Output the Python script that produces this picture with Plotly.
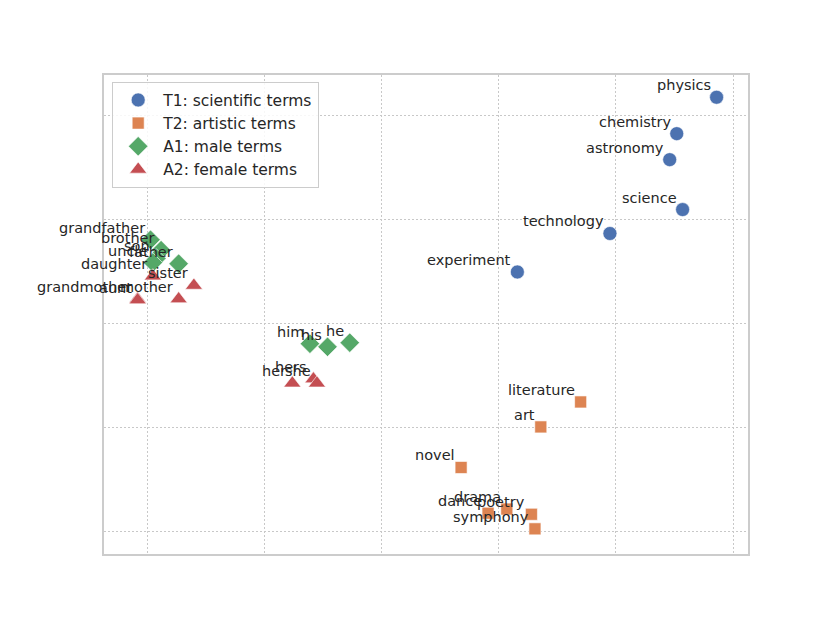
import plotly.graph_objects as go

# word positions (grid spacing = 1 unit)
t1_words = ["physics", "chemistry", "astronomy", "science", "technology", "experiment"]
t1_x = [4.86, 4.52, 4.46, 4.57, 3.95, 3.16]
t1_y = [4.18, 3.83, 3.58, 3.10, 2.87, 2.50]

t2_words = ["literature", "art", "novel", "drama", "dance", "poetry", "symphony"]
t2_x = [3.70, 3.36, 2.68, 3.07, 2.91, 3.28, 3.31]
t2_y = [1.25, 1.01, 0.62, 0.22, 0.18, 0.17, 0.03]

a1_words = ["grandfather", "brother", "son", "uncle", "father", "him", "his", "he"]
a1_x = [0.03, 0.12, 0.08, 0.05, 0.27, 1.39, 1.54, 1.73]
a1_y = [2.81, 2.71, 2.63, 2.59, 2.58, 1.81, 1.78, 1.82]

a2_words = ["daughter", "sister", "grandmother", "aunt", "mother", "her", "hers", "she"]
a2_x = [0.05, 0.40, -0.08, -0.08, 0.27, 1.24, 1.42, 1.45]
a2_y = [2.46, 2.37, 2.24, 2.23, 2.24, 1.43, 1.47, 1.43]

groups = [
    ("T1: scientific terms", t1_words, t1_x, t1_y, "#4C72B0", "circle", 14),
    ("T2: artistic terms", t2_words, t2_x, t2_y, "#DD8452", "square", 12),
    ("A1: male terms", a1_words, a1_x, a1_y, "#55A868", "diamond", 15),
    ("A2: female terms", a2_words, a2_x, a2_y, "#C44E52", "triangle-up", 15),
]

font = dict(family="DejaVu Sans", size=14.5, color="#262626")

fig = go.Figure()
annotations = []
for i, (name, words, xs, ys, color, symbol, size) in enumerate(groups):
    fig.add_trace(go.Scatter(
        x=xs, y=ys, mode="markers", name=name, legendgroup=str(i),
        marker=dict(color=color, symbol=symbol, size=size,
                    line=dict(color="white", width=0.6)),
    ))
    for w, xv, yv in zip(words, xs, ys):
        annotations.append(dict(x=xv, y=yv, text=w, showarrow=False,
                                xanchor="right", yanchor="middle",
                                xshift=-4, yshift=12, font=font))

axis = dict(showgrid=True, gridcolor="#c8c8c8", griddash="1.5px,2.5px", gridwidth=1,
            zeroline=False, showticklabels=False, ticks="",
            showline=True, mirror=True, linecolor="#cccccc", linewidth=1.6)

# page body has an 8px margin, so the plot margins are trimmed to match
fig.update_layout(
    width=830, height=623,
    margin=dict(l=96, r=90, t=67, b=77),
    plot_bgcolor="white", paper_bgcolor="white",
    font=font,
    xaxis=dict(axis, range=[-0.367, 5.128], dtick=1, tick0=0),
    yaxis=dict(axis, range=[-0.212, 4.394], dtick=1, tick0=0),
    annotations=annotations,
    legend=dict(x=0.0124, y=0.985, xanchor="left", yanchor="top",
                bgcolor="rgba(255,255,255,0.85)", bordercolor="#cccccc",
                borderwidth=1.2, tracegroupgap=0, itemwidth=40,
                font=dict(family="DejaVu Sans", size=15.5, color="#262626")),
    showlegend=True,
)

fig.write_html("out.html")
